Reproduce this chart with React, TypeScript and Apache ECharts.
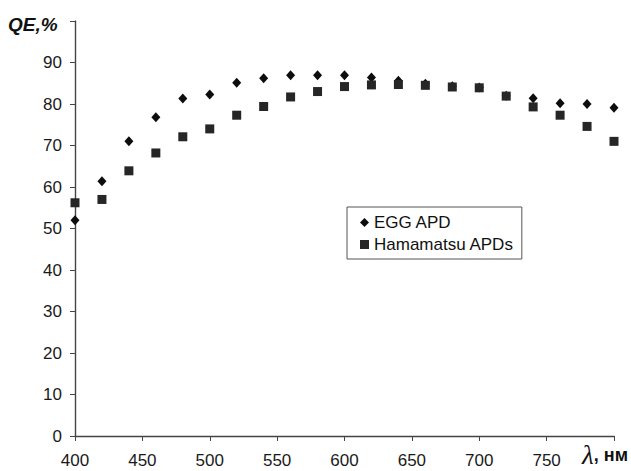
import React, { useEffect, useRef } from "react";
import * as echarts from "echarts";

const wavelengths = [400, 420, 440, 460, 480, 500, 520, 540, 560, 580, 600, 620, 640, 660, 680, 700, 720, 740, 760, 780, 800];
const eggApd = [52, 61.4, 71.0, 76.8, 81.3, 82.3, 85.1, 86.2, 86.9, 86.9, 86.9, 86.4, 85.6, 84.9, 84.3, 84.0, 82.0, 81.4, 80.2, 80.0, 79.1];
const hamamatsu = [56.2, 57.0, 63.9, 68.2, 72.1, 74.0, 77.3, 79.4, 81.7, 83.0, 84.2, 84.6, 84.7, 84.5, 84.1, 83.9, 81.9, 79.3, 77.3, 74.6, 71.0];
const seriesNames = ["EGG APD", "Hamamatsu APDs"];
const yTicks = [0, 10, 20, 30, 40, 50, 60, 70, 80, 90];
const xTicks = [400, 450, 500, 550, 600, 650, 700, 750];

export default function App() {
  const ref = useRef<HTMLDivElement>(null);
  useEffect(() => {
    if (!ref.current) return;
    const chart = echarts.init(ref.current, null, { renderer: "svg" });
    const font = "'Liberation Sans', Arial, sans-serif";
    chart.setOption({
      animation: false,
      backgroundColor: "#ffffff",
      grid: { left: 75, right: 17, top: 21, bottom: 35, containLabel: false },
      xAxis: {
        type: "value",
        min: 400,
        max: 800,
        interval: 50,
        axisLine: { show: true, lineStyle: { color: "#444", width: 1.4 } },
        axisTick: { show: true, length: 5, inside: false, lineStyle: { color: "#444" } },
        splitLine: { show: false },
        axisLabel: {
          color: "#1a1a1a",
          fontSize: 17,
          fontFamily: font,
          margin: 16,
          formatter: (v: number) => (xTicks.includes(v) ? String(v) : ""),
        },
      },
      yAxis: {
        type: "value",
        min: 0,
        max: 100,
        interval: 10,
        axisLine: { show: true, lineStyle: { color: "#444", width: 1.4 } },
        axisTick: { show: true, length: 5, lineStyle: { color: "#444" } },
        splitLine: { show: false },
        axisLabel: {
          color: "#1a1a1a",
          fontSize: 17,
          fontFamily: font,
          margin: 13,
          formatter: (v: number) => (yTicks.includes(v) ? String(v) : ""),
        },
      },
      legend: {
        orient: "vertical",
        left: 347,
        top: 207,
        itemWidth: 9,
        itemHeight: 9,
        itemGap: 5,
        padding: [7, 8, 6, 13],
        borderColor: "#555",
        borderWidth: 1,
        backgroundColor: "#fff",
        textStyle: { fontSize: 17, lineHeight: 17, fontFamily: font, color: "#111" },
        data: [
          { name: seriesNames[0], icon: "diamond" },
          { name: seriesNames[1], icon: "rect" },
        ],
      },
      series: [
        {
          name: seriesNames[0],
          type: "scatter",
          symbol: "diamond",
          symbolSize: [9, 10],
          itemStyle: { color: "#0d0d0d", opacity: 1 },
          data: wavelengths.map((w, i) => [w, eggApd[i]]),
          z: 2,
        },
        {
          name: seriesNames[1],
          type: "scatter",
          symbol: "rect",
          symbolSize: 9,
          itemStyle: { color: "#262626", opacity: 1 },
          data: wavelengths.map((w, i) => [w, hamamatsu[i]]),
          z: 3,
        },
      ],
      graphic: [
        {
          type: "text",
          left: 8,
          top: 15,
          style: {
            text: "QE,%",
            font: `italic bold 19px ${font}`,
            fill: "#111",
          },
        },
        {
          type: "text",
          right: 3,
          top: 441,
          style: {
            rich: {
              l: { font: "italic 27px 'Liberation Serif', 'Times New Roman', serif", fill: "#111" },
              u: { font: `bold 18px ${font}`, fill: "#111" },
            },
            text: "{l|λ}{u|, нм}",
          },
        },
      ],
    });
    return () => chart.dispose();
  }, []);
  return <div ref={ref} style={{ position: "fixed", left: 0, top: 0, width: 631, height: 471 }} />;
}
